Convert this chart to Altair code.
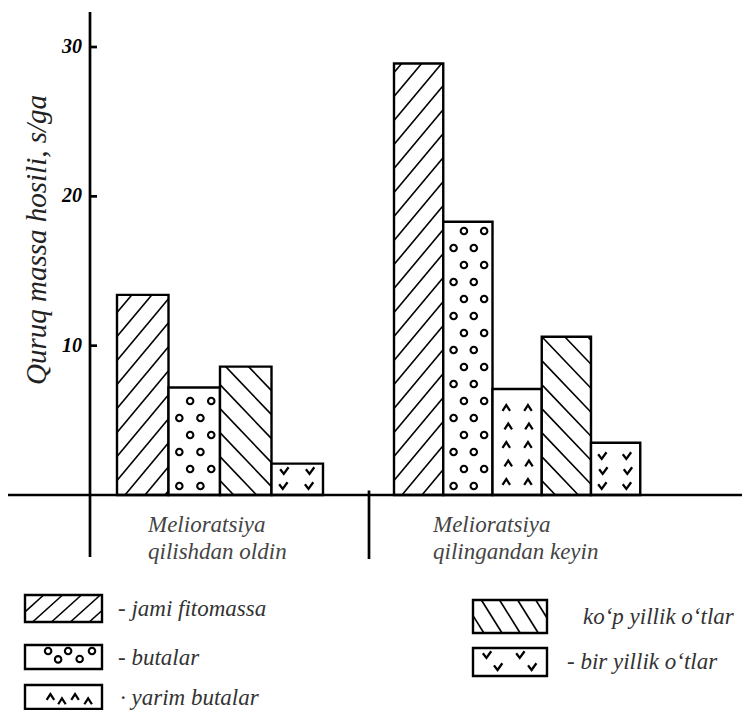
import math
import altair as alt
import pandas as pd

# ---------------- data ----------------
series = ["jami fitomassa", "butalar", "yarim butalar", "ko‘p yillik o‘tlar", "bir yillik o‘tlar"]
before_vals = [13.4, 7.2, None, 8.6, 2.1]
after_vals = [28.9, 18.3, 7.1, 10.6, 3.5]
group_lines = [["Melioratsiya", "qilishdan oldin"], ["Melioratsiya", "qilingandan keyin"]]
y_ticks = [10, 20, 30]
y_title = "Quruq massa hosili, s/ga"
legend_prefix = ["- ", "- ", "· ", "", "- "]

# ---------------- layout (page pixels) ----------------
W, H = 734, 702
M = 8
X_ORIGIN, X_UNIT = 90, 50.0
Y_ORIGIN, Y_UNIT = 495, 14.933


def dx(p):
    return (p - X_ORIGIN) / X_UNIT


def dy(p):
    return (Y_ORIGIN - p) / Y_UNIT


def px(v):
    return X_ORIGIN + v * X_UNIT


def py(v):
    return Y_ORIGIN - v * Y_UNIT


XS = alt.Scale(domain=[dx(M), dx(M + W)], nice=False, zero=False)
YS = alt.Scale(domain=[dy(M + H), dy(M)], nice=False, zero=False)

G_START = [0.54, 6.08]
G_BAR_W = [1.03, 0.985]
LABEL_X = [dx(148), dx(433)]

BAR_PAT = {
    0: dict(kind="hatch", dir="/", slope=1.2, spacing=24),
    1: dict(kind="ring", even=[0.21, 0.62], odd=[0.42, 0.83], step=17, bottom=9, top=8),
    2: dict(kind="caret", even=[0.28, 0.72], odd=[0.32, 0.74], step=18.5, bottom=13, top=9),
    3: dict(kind="hatch", dir="\\", slope=1.05, spacing=24),
    4: dict(kind="check", even=[0.23, 0.73], odd=[0.25, 0.75], step=15, bottom=9, top=6),
}
LEG_BOX = [(25, 595, 102, 622), (25, 645, 102, 669), (25, 685, 102, 709),
           (473, 600, 547, 633), (473, 648, 547, 676)]
LEG_TEXT = [(118, 609), (118, 658), (120, 698), (583, 617), (567, 662)]
LEG_PAT = {
    0: dict(kind="hatch", dir="/", slope=0.9, spacing=17),
    1: dict(kind="ring", pts=[(0.30, 0.25), (0.56, 0.25), (0.87, 0.25), (0.43, 0.6), (0.71, 0.58)]),
    2: dict(kind="caret", pts=[(0.33, 0.5), (0.48, 0.68), (0.65, 0.5), (0.82, 0.68)]),
    3: dict(kind="hatch", dir="\\", slope=1.6, spacing=29),
    4: dict(kind="check", pts=[(0.19, 0.25), (0.34, 0.68), (0.64, 0.25), (0.80, 0.68)]),
}


def hatch_segments(x0, x1, ytop, ybot, direction, s, spacing):
    segs = []
    if direction == "/":
        cmin, cmax = ytop + s * x0, ybot + s * x1
        cref = ybot + s * x0 - spacing * 0.6
    else:
        cmin, cmax = ytop - s * x1, ybot - s * x0
        cref = ybot - s * x0 - spacing * 0.6
    k0 = math.floor((cmin - cref) / spacing) - 1
    k1 = math.ceil((cmax - cref) / spacing) + 1
    for k in range(k0, k1 + 1):
        c = cref + k * spacing
        if direction == "/":
            a = max(x0, (c - ybot) / s)
            b = min(x1, (c - ytop) / s)
            if b - a > 1.5:
                segs.append((a, c - s * a, b, c - s * b))
        else:
            a = max(x0, (ytop - c) / s)
            b = min(x1, (ybot - c) / s)
            if b - a > 1.5:
                segs.append((a, c + s * a, b, c + s * b))
    return segs


def grid_points(x0, x1, ytop, ybot, p):
    pts = []
    r = 0
    while True:
        yy = ybot - p["bottom"] - r * p["step"]
        if yy < ytop + p["top"]:
            break
        cols = p["even"] if r % 2 == 0 else p["odd"]
        for f in cols:
            pts.append((x0 + f * (x1 - x0), yy))
        r += 1
    return pts


rects, hatches, marks = [], [], []


def add_pattern(x0, x1, ytop, ybot, p):
    if p["kind"] == "hatch":
        for a, ya, b, yb in hatch_segments(x0, x1, ytop, ybot, p["dir"], p["slope"], p["spacing"]):
            hatches.append(dict(x=dx(a), y=dy(ya), x2=dx(b), y2=dy(yb)))
    else:
        if "pts" in p:
            pts = [(x0 + fx * (x1 - x0), ytop + fy * (ybot - ytop)) for fx, fy in p["pts"]]
        else:
            pts = grid_points(x0, x1, ytop, ybot, p)
        for a, b in pts:
            marks.append(dict(x=dx(a), y=dy(b), kind=p["kind"]))


for g, vals in enumerate([before_vals, after_vals]):
    k = 0
    for i, (s, v) in enumerate(zip(series, vals)):
        if v is None:
            continue
        x0 = G_START[g] + k * G_BAR_W[g]
        x1 = x0 + G_BAR_W[g]
        rects.append(dict(x=x0, x2=x1, y=0.0, y2=v, series=s))
        add_pattern(px(x0), px(x1), py(v), py(0), BAR_PAT[i])
        k += 1

for i, (bx0, by0, bx1, by1) in enumerate(LEG_BOX):
    rects.append(dict(x=dx(bx0), x2=dx(bx1), y=dy(by1), y2=dy(by0), series=series[i]))
    add_pattern(bx0, bx1, by0, by1, LEG_PAT[i])

rect_df = pd.DataFrame(rects)
hatch_df = pd.DataFrame(hatches)
mark_df = pd.DataFrame(marks)

X = lambda f="x": alt.X(f + ":Q", scale=XS, axis=None)
Y = lambda f="y": alt.Y(f + ":Q", scale=YS, axis=None)

bars = alt.Chart(rect_df).mark_rect(fill="white", stroke="black", strokeWidth=2.4).encode(
    x=X(), x2="x2:Q", y=Y(), y2="y2:Q")

hatch = alt.Chart(hatch_df).mark_rule(color="black", strokeWidth=1.6).encode(
    x=X(), y=Y(), x2="x2:Q", y2="y2:Q")

rings = alt.Chart(mark_df).transform_filter(alt.datum.kind == "ring").mark_point(
    shape="circle", filled=False, size=42, strokeWidth=2.1, color="black", opacity=1).encode(x=X(), y=Y())
carets = alt.Chart(mark_df).transform_filter(alt.datum.kind == "caret").mark_point(
    shape="M-0.9,0.7L0,-0.7L0.9,0.7", filled=False, size=70, strokeWidth=2.2, color="black", opacity=1).encode(x=X(), y=Y())
checks = alt.Chart(mark_df).transform_filter(alt.datum.kind == "check").mark_point(
    shape="M-1,-0.4L-0.15,0.7L1,-0.9", filled=False, size=70, strokeWidth=2.3, color="black", opacity=1).encode(x=X(), y=Y())

lines_df = pd.DataFrame([
    dict(x=dx(M), x2=dx(M + W), y=0.0, y2=0.0),
    dict(x=0.0, x2=0.0, y=dy(557), y2=dy(12)),
    dict(x=dx(369), x2=dx(369), y=0.3, y2=dy(559)),
] + [dict(x=0.0, x2=dx(97), y=t, y2=t) for t in y_ticks])
lines = alt.Chart(lines_df).mark_rule(color="black", strokeWidth=2.7).encode(
    x=X(), y=Y(), x2="x2:Q", y2="y2:Q")

tick_df = pd.DataFrame({"y": y_ticks, "label": [str(t) for t in y_ticks], "x": [dx(82)] * len(y_ticks)})
tick_text = alt.Chart(tick_df).mark_text(
    align="right", baseline="middle", font="Liberation Serif", fontStyle="italic",
    fontWeight="bold", fontSize=20, color="black").encode(x=X(), y=Y(), text="label:N")

title_df = pd.DataFrame({"x": [dx(37)], "y": [dy(240)], "t": [y_title]})
title_text = alt.Chart(title_df).mark_text(
    angle=270, align="center", baseline="middle", font="Liberation Serif", fontStyle="italic",
    fontSize=29, color="#222").encode(x=X(), y=Y(), text="t:N")

glab_df = pd.DataFrame({"x": LABEL_X, "y": [dy(532)] * 2, "t": ["\n".join(l) for l in group_lines]})
glab_text = alt.Chart(glab_df).mark_text(
    align="left", baseline="alphabetic", lineBreak="\n", lineHeight=27, font="Liberation Serif",
    fontStyle="italic", fontSize=23, color="#444").encode(x=X(), y=Y(), text="t:N")

leg_df = pd.DataFrame({
    "x": [dx(t[0]) for t in LEG_TEXT], "y": [dy(t[1]) for t in LEG_TEXT],
    "t": [p + s for p, s in zip(legend_prefix, series)]})
leg_text = alt.Chart(leg_df).mark_text(
    align="left", baseline="middle", font="Liberation Serif", fontStyle="italic",
    fontSize=23, color="#333").encode(x=X(), y=Y(), text="t:N")

chart = alt.layer(bars, hatch, rings, carets, checks, lines, tick_text, title_text, glab_text, leg_text).properties(
    width=W, height=H, autosize=alt.AutoSizeParams(type="none"), padding=0, background="white"
).configure_view(stroke=None)

chart.save("out.html", embed_options={"renderer": "svg", "actions": False})
